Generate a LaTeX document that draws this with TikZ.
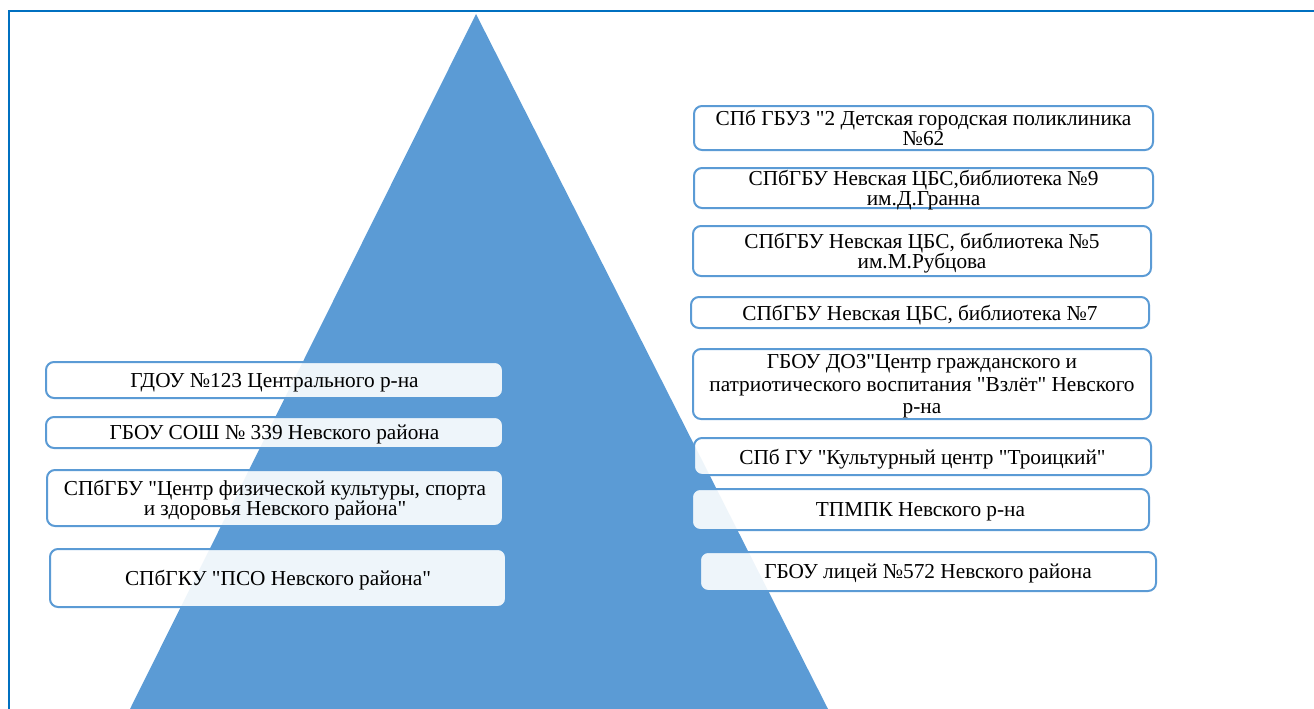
\documentclass[tikz,border=0pt]{standalone}
\usepackage{fontspec}
\setmainfont{Liberation Serif}[Ligatures=TeXOff]
\definecolor{pyramid}{HTML}{5B9BD5}
\definecolor{frameblue}{HTML}{0070C0}
\begin{document}
\begin{tikzpicture}[x=1pt,y=-1pt]

        \useasboundingbox (0,0) rectangle (1314,709);
        \draw[frameblue,line width=2.5pt] (9,709) -- (9,11) -- (1314,11);

        \coordinate (apex) at (476,14);
        \coordinate (baseL) at (130,709);
        \coordinate (baseR) at (828,709);
        \fill[pyramid] (apex) -- (baseR) -- (baseL) -- cycle;

        \begin{scope}[every node/.style={draw=pyramid,line width=2pt,rounded corners=8pt,
            fill=white,fill opacity=0.9,text opacity=1,inner sep=0pt,align=center,
            text depth=0pt,font=\fontsize{21.3}{20}\selectfont}]
          \node[minimum width=457pt,minimum height=36pt] (l1) at (274.5,380) {ГДОУ №123 Центрального р-на};
          \node[minimum width=457pt,minimum height=31pt] (l2) at (274.5,432.5) {ГБОУ СОШ № 339 Невского района};
          \node[minimum width=456pt,minimum height=56pt] (l3) at (275,498) {СПбГБУ "Центр физической культуры, спорта\\и здоровья Невского района"};
          \node[minimum width=456pt,minimum height=58pt] (l4) at (278,578) {СПбГКУ "ПСО Невского района"};

          \node[minimum width=459pt,minimum height=44pt,font=\fontsize{21.3}{19.5}\selectfont] (r1) at (923.5,128) {СПб ГБУЗ "2 Детская городская поликлиника\\№62};
          \node[minimum width=459pt,minimum height=40pt] (r2) at (923.5,188) {СПбГБУ Невская ЦБС,библиотека №9\\им.Д.Гранна};
          \node[minimum width=458pt,minimum height=50pt] (r3) at (922,251) {СПбГБУ Невская ЦБС, библиотека №5\\им.М.Рубцова};
          \node[minimum width=458pt,minimum height=31pt] (r4) at (920,312.5) {СПбГБУ Невская ЦБС, библиотека №7};
          \node[minimum width=458pt,minimum height=70pt,font=\fontsize{21.3}{22.5}\selectfont] (r5) at (922,384) {ГБОУ ДОЗ"Центр гражданского и\\патриотического воспитания "Взлёт" Невского\\р-на};
          \node[minimum width=457pt,minimum height=37pt] (r6) at (922.5,456.5) {СПб ГУ "Культурный центр "Троицкий"};
          \node[minimum width=457pt,minimum height=41pt] (r7) at (920.5,509.5) {ТПМПК Невского р-на};
          \node[minimum width=456pt,minimum height=39pt] (r8) at (928,571.5) {ГБОУ лицей №572 Невского района};
        \end{scope}

      \end{tikzpicture}
\end{document}
